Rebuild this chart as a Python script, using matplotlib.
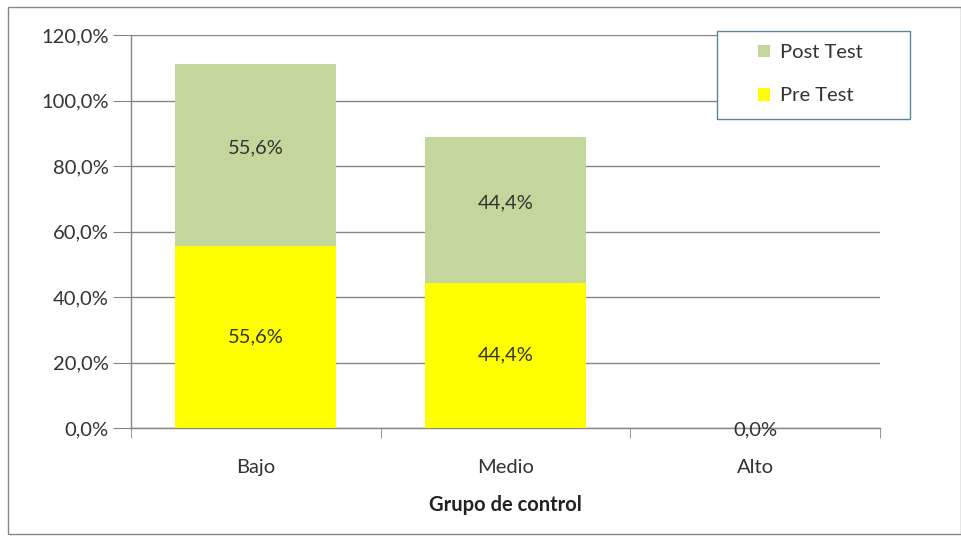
import matplotlib
matplotlib.use("Agg")
import matplotlib.pyplot as plt
from matplotlib.patches import Rectangle
import numpy as np

categories = ["Bajo", "Medio", "Alto"]
pre_test = [55.6, 44.4, 0.0]
post_test = [55.6, 44.4, 0.0]
yticks = [0, 20, 40, 60, 80, 100, 120]

plt.rcParams['font.family'] = ['Lato', 'DejaVu Sans']
FS = 14.5

fig = plt.figure(figsize=(9.61, 5.38), dpi=100)
fig.patch.set_facecolor("white")
fig.add_artist(Rectangle((8/961, 1-534/538), (961-8)/961, (534-7)/538,
                         transform=fig.transFigure, fill=False,
                         edgecolor="#868686", linewidth=1.0))

ax = fig.add_axes([131/961, 1-428/538, (880-131)/961, (428-35)/538])
x = np.arange(len(categories))
w = 0.645
grid_c = "#868686"
txt_c = "#333333"

ax.bar(x, pre_test, w, color="#ffff00", label="Pre Test", zorder=3)
ax.bar(x, post_test, w, bottom=pre_test, color="#c3d69b", label="Post Test", zorder=3)

def fmt(v):
    return f"{v:.1f}".replace(".", ",") + "%"

for i in range(len(categories)):
    if pre_test[i] == 0 and post_test[i] == 0:
        ax.text(x[i], -0.5, fmt(0), ha="center", va="center", fontsize=FS, color=txt_c, zorder=5)
        continue
    ax.text(x[i], pre_test[i] / 2, fmt(pre_test[i]), ha="center", va="center",
            fontsize=FS, color=txt_c, zorder=5)
    ax.text(x[i], pre_test[i] + post_test[i] / 2 + 2, fmt(post_test[i]), ha="center", va="center",
            fontsize=FS, color=txt_c, zorder=5)

ax.set_xlim(-0.5, 2.5)
ax.set_ylim(0, 120)
ax.set_yticks(yticks)
ax.set_yticklabels([fmt(v) for v in yticks], fontsize=FS, color=txt_c)
ax.yaxis.grid(True, color=grid_c, linewidth=1.0, zorder=0)
ax.set_axisbelow(True)

ax.set_xticks(x)
ax.set_xticklabels(categories, fontsize=FS, color=txt_c)
ax.tick_params(axis="x", length=0, pad=22)
ax.set_xticks([-0.5, 0.5, 1.5, 2.5], minor=True)
ax.tick_params(axis="x", which="minor", length=7, color=grid_c, direction="out")
ax.tick_params(axis="y", length=13, color=grid_c, direction="out", pad=3)

for s in ["top", "right"]:
    ax.spines[s].set_visible(False)
for s in ["left", "bottom"]:
    ax.spines[s].set_color(grid_c)
    ax.spines[s].set_linewidth(1.0)

ax.set_xlabel("Grupo de control", fontsize=FS, fontweight="bold", color="#222222", labelpad=14)

# legend frame drawn separately to match reference box size
fig.add_artist(Rectangle((717/961, 1-119/538), (910-717)/961, (119-31)/538,
                         transform=fig.transFigure, facecolor="white",
                         edgecolor="#5a87a0", linewidth=1.0, zorder=4))
handles, labels = ax.get_legend_handles_labels()
leg = fig.legend(handles[::-1], labels[::-1], loc="upper left",
                 bbox_to_anchor=(752/961, 1-38/538), fontsize=FS,
                 frameon=False, handlelength=0.6, handleheight=0.6,
                 handletextpad=0.5, borderpad=0.3, labelspacing=1.3, borderaxespad=0)
leg.set_zorder(5)
for t in leg.get_texts():
    t.set_color(txt_c)

fig.savefig("out.png", dpi=100)
